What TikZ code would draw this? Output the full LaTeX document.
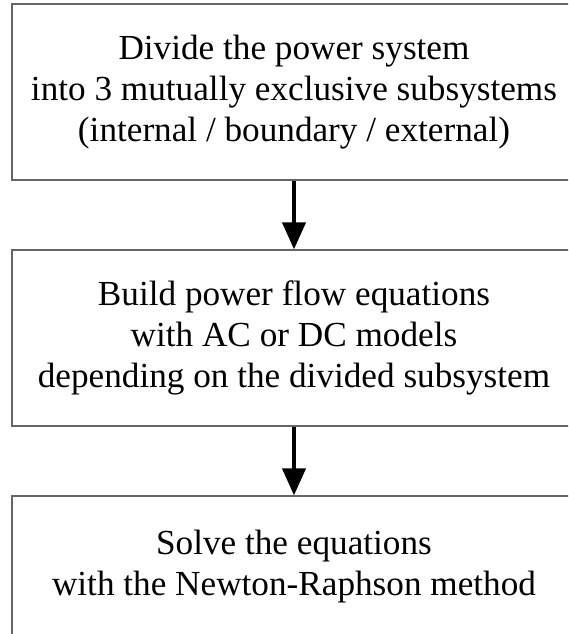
\documentclass[tikz,border=0pt]{standalone}
\usepackage{fontspec}
\setmainfont{Liberation Serif}
\usetikzlibrary{arrows.meta, calc}

\begin{document}
\begin{tikzpicture}[line cap=butt,line join=miter,x=1pt,y=-1pt,
    stepbox/.style={draw=black!60, line width=1.3pt, minimum width=564pt, inner sep=0pt,
        align=center, font=\fontsize{35.2}{41}\selectfont},
    flowarrow/.style={line width=4.3pt, -{Triangle[width=23pt,length=27pt]}}]
    \useasboundingbox (0,0) rectangle (568,634);
    \clip (0,0) rectangle (568,634);

    % divide step
    \draw (294,92) node[stepbox, minimum height=176pt, xshift=0pt] (divide)
        {Divide the power system\\ into 3 mutually exclusive subsystems\\ (internal / boundary / external)};

    % equations step
    \draw (294,338) node[stepbox, minimum height=176pt] (build)
        {Build power flow equations\\ with AC or DC models\\ depending on the divided subsystem};

    % solve step
    \draw (294,567) node[stepbox, minimum height=142pt] (solve)
        {Solve the equations\\ with the Newton-Raphson method};

    \draw[flowarrow] (divide.south) -- (build.north);
    \draw[flowarrow] (build.south) -- (solve.north);

\end{tikzpicture}
\end{document}
